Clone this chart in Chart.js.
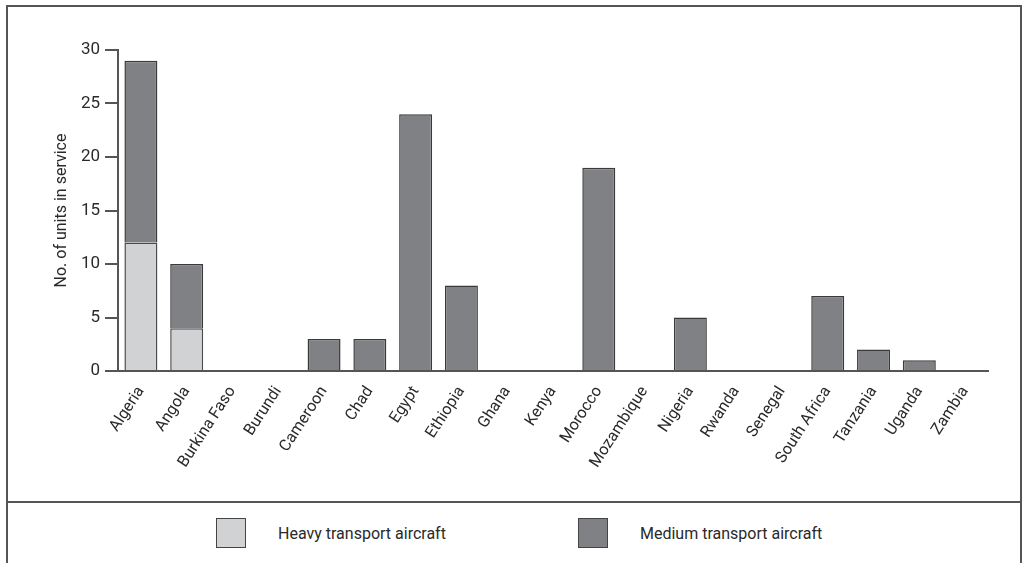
<!DOCTYPE html>
<html>
<head>
<meta charset="utf-8">
<script src="https://cdn.jsdelivr.net/npm/chart.js@4"></script>
<style>
    html, body { margin: 0; padding: 0; background: #fff; }
    #wrap { position: relative; width: 1022px; height: 563px; overflow: hidden; font-family: Roboto, "Liberation Sans", sans-serif; }
    #chart { position: absolute; left: 0; top: 0; }
    .rule { position: absolute; background: #555; }
    .legend-item { position: absolute; display: flex; align-items: center; font-size: 16px; color: #2a2a2a; }
    .legend-box { width: 30px; height: 30px; box-sizing: border-box; border: 1.5px solid #444; }
</style>
</head>
<body>
<div id="wrap">
    <canvas id="chart" width="1022" height="502"></canvas>
    <div class="rule" style="left:6px; top:5px; width:1016px; height:2px;"></div>
    <div class="rule" style="left:6px; top:5px; width:2px; height:558px;"></div>
    <div class="rule" style="left:1020px; top:5px; width:2px; height:558px;"></div>
    <div class="rule" style="left:6px; top:501px; width:1016px; height:2px;"></div>
    <div id="legend"></div>
</div>
<script>
// data
const countries = ["Algeria", "Angola", "Burkina Faso", "Burundi", "Cameroon", "Chad", "Egypt", "Ethiopia", "Ghana", "Kenya",
    "Morocco", "Mozambique", "Nigeria", "Rwanda", "Senegal", "South Africa", "Tanzania", "Uganda", "Zambia"];
const heavyTransport = [12, 4, 0, 0, 0, 0, 0, 0, 0, 0, 0, 0, 0, 0, 0, 0, 0, 0, 0];
const mediumTransport = [17, 6, 0, 0, 3, 3, 24, 8, 0, 0, 19, 0, 5, 0, 0, 7, 2, 1, 0];
const yTicks = [0, 5, 10, 15, 20, 25, 30];

const textColor = '#2a2a2a';
const lineColor = '#555';

// no outline on empty bars
const barBorder = (ctx) => ctx.raw ? 1.5 : 0;

const chart = new Chart(document.getElementById('chart'), {
    type: 'bar',
    data: {
        labels: countries,
        datasets: [{
            label: 'Heavy transport aircraft',
            data: heavyTransport,
            backgroundColor: '#d1d2d4',
            borderColor: '#4a4a4a',
            borderWidth: barBorder,
            borderSkipped: 'start',
        }, {
            label: 'Medium transport aircraft',
            data: mediumTransport,
            backgroundColor: '#808184',
            borderColor: '#3a3a3a',
            borderWidth: barBorder,
            borderSkipped: 'start',
        }]
    },
    options: {
        responsive: false,
        animation: false,
        categoryPercentage: 1,
        barPercentage: 0.72,
        layout: { padding: { left: 0, right: 34, top: 50, bottom: 0 } },
        plugins: {
            legend: { display: false },
            tooltip: { enabled: false }
        },
        scales: {
            x: {
                stacked: true,
                grid: { display: false },
                border: { display: true, color: lineColor, width: 2, z: 1 },
                ticks: {
                    color: textColor,
                    font: { family: 'Roboto', size: 16 },
                    minRotation: 57,
                    maxRotation: 57,
                    autoSkip: false,
                    padding: 4
                },
                afterFit: (scale) => { scale.height = 131; }
            },
            y: {
                stacked: true,
                min: 0,
                max: 30,
                afterBuildTicks: (scale) => { scale.ticks = yTicks.map(v => ({ value: v })); },
                grid: { drawOnChartArea: false, tickLength: 13, color: lineColor, lineWidth: 2 },
                border: { display: true, color: lineColor, width: 2 },
                ticks: {
                    color: textColor,
                    font: { family: 'Roboto', size: 17 },
                    padding: 5
                },
                title: {
                    display: true,
                    text: 'No. of units in service',
                    color: textColor,
                    font: { family: 'Roboto', size: 16 },
                    padding: { top: 52, bottom: 0 }
                },
                afterFit: (scale) => { scale.width = 118; }
            }
        }
    }
});

// legend built from the datasets
const legendX = [216, 578];
const legend = document.getElementById('legend');
chart.data.datasets.forEach((ds, i) => {
    const item = document.createElement('div');
    item.className = 'legend-item';
    item.style.left = legendX[i] + 'px';
    item.style.top = '518px';
    const box = document.createElement('div');
    box.className = 'legend-box';
    box.style.background = ds.backgroundColor;
    const txt = document.createElement('span');
    txt.textContent = ds.label;
    txt.style.marginLeft = '32px';
    item.appendChild(box);
    item.appendChild(txt);
    legend.appendChild(item);
});
</script>
</body>
</html>
